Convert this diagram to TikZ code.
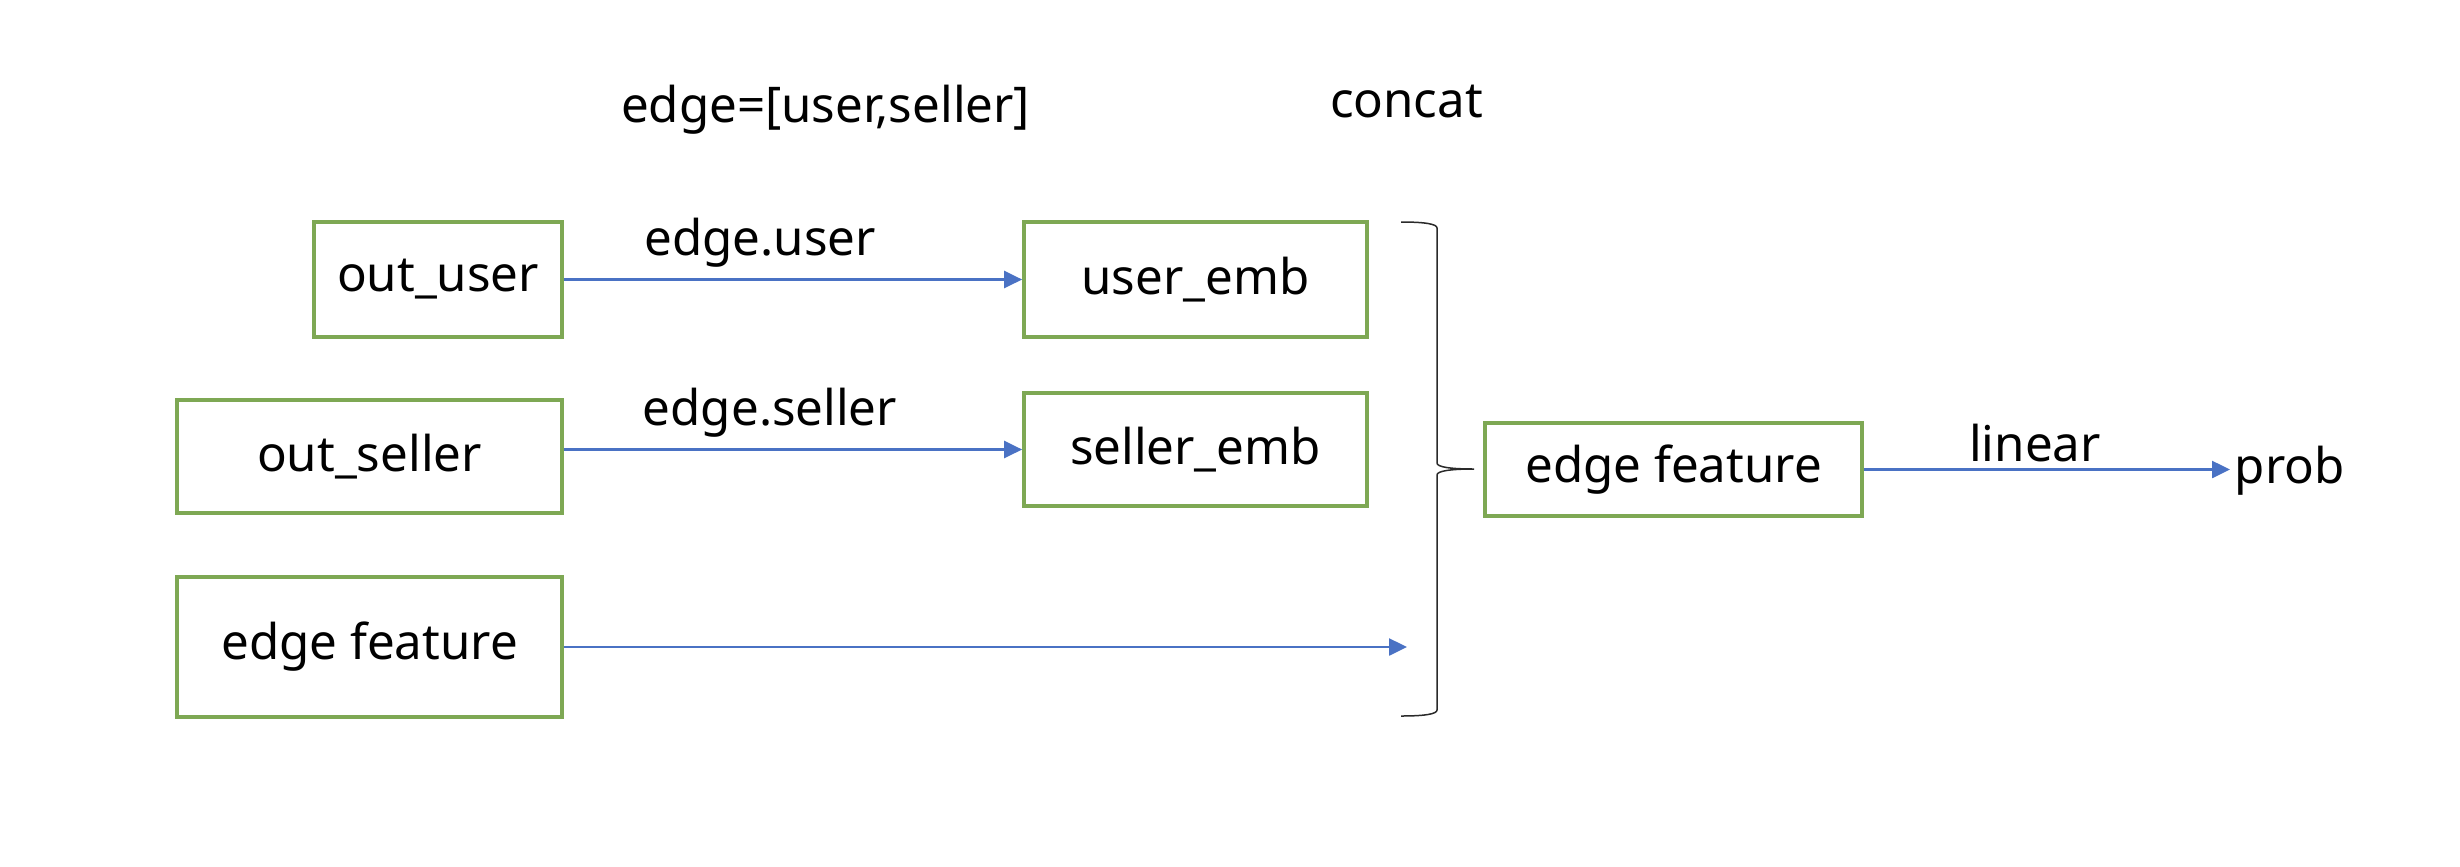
\documentclass[tikz,border=0pt]{standalone}
\usepackage{fontspec}
\setmainfont{Noto Sans}
\usetikzlibrary{arrows.meta}
\definecolor{boxgreen}{HTML}{7EA854}
\definecolor{arrblue}{HTML}{4A72C4}
\definecolor{bracegray}{HTML}{2A2A2A}
\begin{document}
\begin{tikzpicture}[x=0.01cm,y=-0.01cm,
  every node/.style={font=\fontsize{14}{17}\selectfont},
  gbox/.style={draw=boxgreen,line width=0.035cm,inner sep=0pt,align=center},
  flow/.style={draw=arrblue,line width=0.025cm,-{Triangle[length=0.18cm,width=0.17cm]}},
  lbl/.style={anchor=base,inner sep=0pt}
]
\useasboundingbox (0,0) rectangle (2460,866);
% boxes
\node[gbox,minimum width=2.48cm,minimum height=1.15cm] (ouser) at (438,279.5) {\raisebox{-0.08cm}{out\_user}};
\node[gbox,minimum width=3.43cm,minimum height=1.15cm] (uemb) at (1195.5,279.5) {\raisebox{-0.08cm}{user\_emb}};
\node[gbox,minimum width=3.85cm,minimum height=1.13cm] (oseller) at (369.5,456.5) {\raisebox{-0.06cm}{out\_seller}};
\node[gbox,minimum width=3.43cm,minimum height=1.13cm] (semb) at (1195.5,449.5) {\raisebox{-0.04cm}{seller\_emb}};
\node[gbox,minimum width=3.85cm,minimum height=1.40cm] (efl) at (369.5,647) {\raisebox{-0.04cm}{edge feature}};
\node[gbox,minimum width=3.77cm,minimum height=0.93cm] (efr) at (1673.5,469.5) {edge feature};
\node[anchor=base west,inner sep=0pt] (prob) at (2234,483) {prob};
% labels
\node[lbl] (ltop) at (825.5,122) {edge=[user,seller]};
\node[lbl] (lconcat) at (1406.5,117) {concat};
\node[lbl] (luser) at (760,255) {edge.user};
\node[lbl] (lseller) at (770,425) {edge.seller};
\node[lbl] (llinear) at (2035,461) {linear};
% arrows
\coordinate (efend) at (1407,647);
\draw[flow] (ouser.east) -- (uemb.west);
\draw[flow] (oseller.east |- semb.west) -- (semb.west);
\draw[flow] (efl.east |- efend) -- (efend);
\draw[flow] (efr.east) -- ([xshift=-0.04cm]efr.east -| prob.west);
% brace
\draw[bracegray,line width=0.015cm]
  (1401,222) .. controls (1425,222) and (1437,224) .. (1437,228)
  -- (1437,463) .. controls (1437,467) and (1450,469) .. (1474,469)
  .. controls (1450,469) and (1437,471) .. (1437,475)
  -- (1437,710) .. controls (1437,714) and (1425,716) .. (1401,716);
\end{tikzpicture}
\end{document}
